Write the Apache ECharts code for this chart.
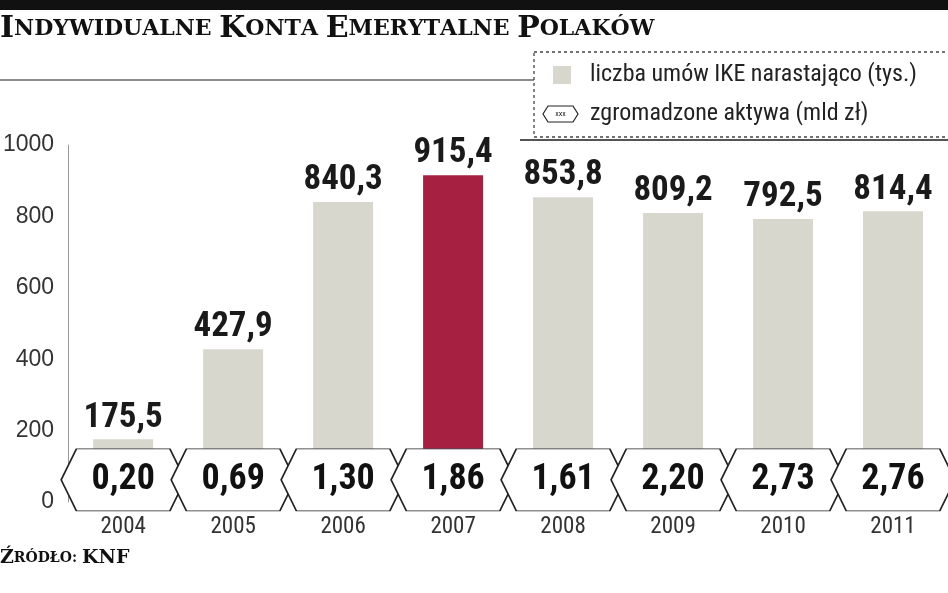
<!DOCTYPE html>
<html><head><meta charset="utf-8">
<script src="https://cdn.jsdelivr.net/npm/echarts@6/dist/echarts.min.js"></script>
<style>html,body{margin:0;padding:0;background:#fff}#c{width:948px;height:593px}</style>
</head><body><div id="c"></div>
<script>
const years = ['2004','2005','2006','2007','2008','2009','2010','2011'];
const contracts = [175.5, 427.9, 840.3, 915.4, 853.8, 809.2, 792.5, 814.4];
const assets = ['0,20','0,69','1,30','1,86','1,61','2,20','2,73','2,76'];
const yTicks = [0, 200, 400, 600, 800, 1000];
const highlightYear = '2007';
const hexLevel = 62;

const F = '"Liberation Sans Narrow","Roboto Condensed","Liberation Sans",sans-serif';
const SF = '"DejaVu Serif","Liberation Serif",serif';
const hexPath = 'path://M0,31 L14,0 L100,0 L114,31 L100,62 L14,62 Z';
function sc(txt){
  return txt.split('').map(ch => {
    if (ch === ' ') return '{s| }';
    if (ch === ch.toUpperCase() && ch !== ch.toLowerCase()) return '{b|' + ch + '}';
    return '{s|' + ch.toUpperCase() + '}';
  }).join('');
}
const chart = echarts.init(document.getElementById('c'));
chart.setOption({
  backgroundColor: '#fff',
  animation: false,
  grid: {left: 56, right: -12, top: 145, bottom: 91},
  xAxis: {type: 'category', data: years,
    axisLine: {show: false}, axisTick: {show: false},
    axisLabel: {color: '#333', fontFamily: F, fontSize: 23, margin: 14}},
  yAxis: {type: 'value', min: 0, max: 1000, interval: 200,
    axisLine: {show: true, lineStyle: {color: '#999'}},
    axisTick: {show: false}, splitLine: {show: false},
    axisLabel: {color: '#333', fontFamily: '"Liberation Sans",sans-serif', fontSize: 23, margin: 14,
      formatter: v => yTicks.includes(v) ? String(v) : ''}},
  series: [
    {type: 'bar', barWidth: 60, z: 2,
      data: contracts.map((v, i) => ({value: v, itemStyle: {color: years[i] === highlightYear ? '#a62141' : '#d7d7cd'}})),
      label: {show: true, position: 'top', distance: 4, fontFamily: F, fontWeight: 'bold', fontSize: 35, color: '#1a1a1a',
        formatter: p => String(p.value).replace('.', ',')}},
    {type: 'scatter', z: 5, symbol: hexPath, symbolSize: [124, 62], symbolKeepAspect: false,
      data: assets.map((a, i) => ({value: hexLevel, name: a})),
      itemStyle: {color: '#fff', borderColor: '#222', borderWidth: 1.3, opacity: 1},
      label: {show: true, position: 'inside', fontFamily: F, fontWeight: 'bold', fontSize: 36, color: '#111',
        formatter: p => p.name}}
  ],
  graphic: [
    {type: 'rect', shape: {x: 0, y: 0, width: 948, height: 10}, style: {fill: '#111'}},
    {type: 'text', left: 0, top: 14, style: {
      text: sc('Indywidualne Konta Emerytalne Polaków'), fill: '#111',
      rich: {b: {fontFamily: SF, fontWeight: 'bold', fontSize: 30},
             s: {fontFamily: SF, fontWeight: 'bold', fontSize: 22}}}},
    {type: 'line', shape: {x1: 0, y1: 80, x2: 534, y2: 80}, style: {stroke: '#666', lineWidth: 1.5}},
    {type: 'line', shape: {x1: 520, y1: 140, x2: 948, y2: 140}, style: {stroke: '#555', lineWidth: 2}},
    {type: 'rect', shape: {x: 534, y: 52, width: 430, height: 85}, style: {fill: 'none', stroke: '#444', lineWidth: 1.3, lineDash: [3, 3]}},
    {type: 'rect', shape: {x: 553, y: 66, width: 18, height: 18}, style: {fill: '#d7d7cd'}},
    {type: 'text', x: 590, y: 75, style: {text: 'liczba umów IKE narastająco (tys.)', fontFamily: F, fontSize: 24, fill: '#222', verticalAlign: 'middle'}},
    {type: 'polygon', shape: {points: [[543,114],[548,106],[573,106],[578,114],[573,122],[548,122]]}, style: {fill: '#fff', stroke: '#222', lineWidth: 1.2}},
    {type: 'text', x: 560.5, y: 114, style: {text: 'xxx', fontFamily: F, fontSize: 8, fill: '#222', align: 'center', verticalAlign: 'middle'}},
    {type: 'text', x: 590, y: 114, style: {text: 'zgromadzone aktywa (mld zł)', fontFamily: F, fontSize: 24, fill: '#222', verticalAlign: 'middle'}},
    {type: 'text', left: 0, top: 549, style: {
      text: '{b|Ź}{s|RÓDŁO: }{b|KNF}', fill: '#111',
      rich: {b: {fontFamily: SF, fontWeight: 'bold', fontSize: 19},
             s: {fontFamily: SF, fontWeight: 'bold', fontSize: 14}}}}
  ]
});
</script></body></html>
